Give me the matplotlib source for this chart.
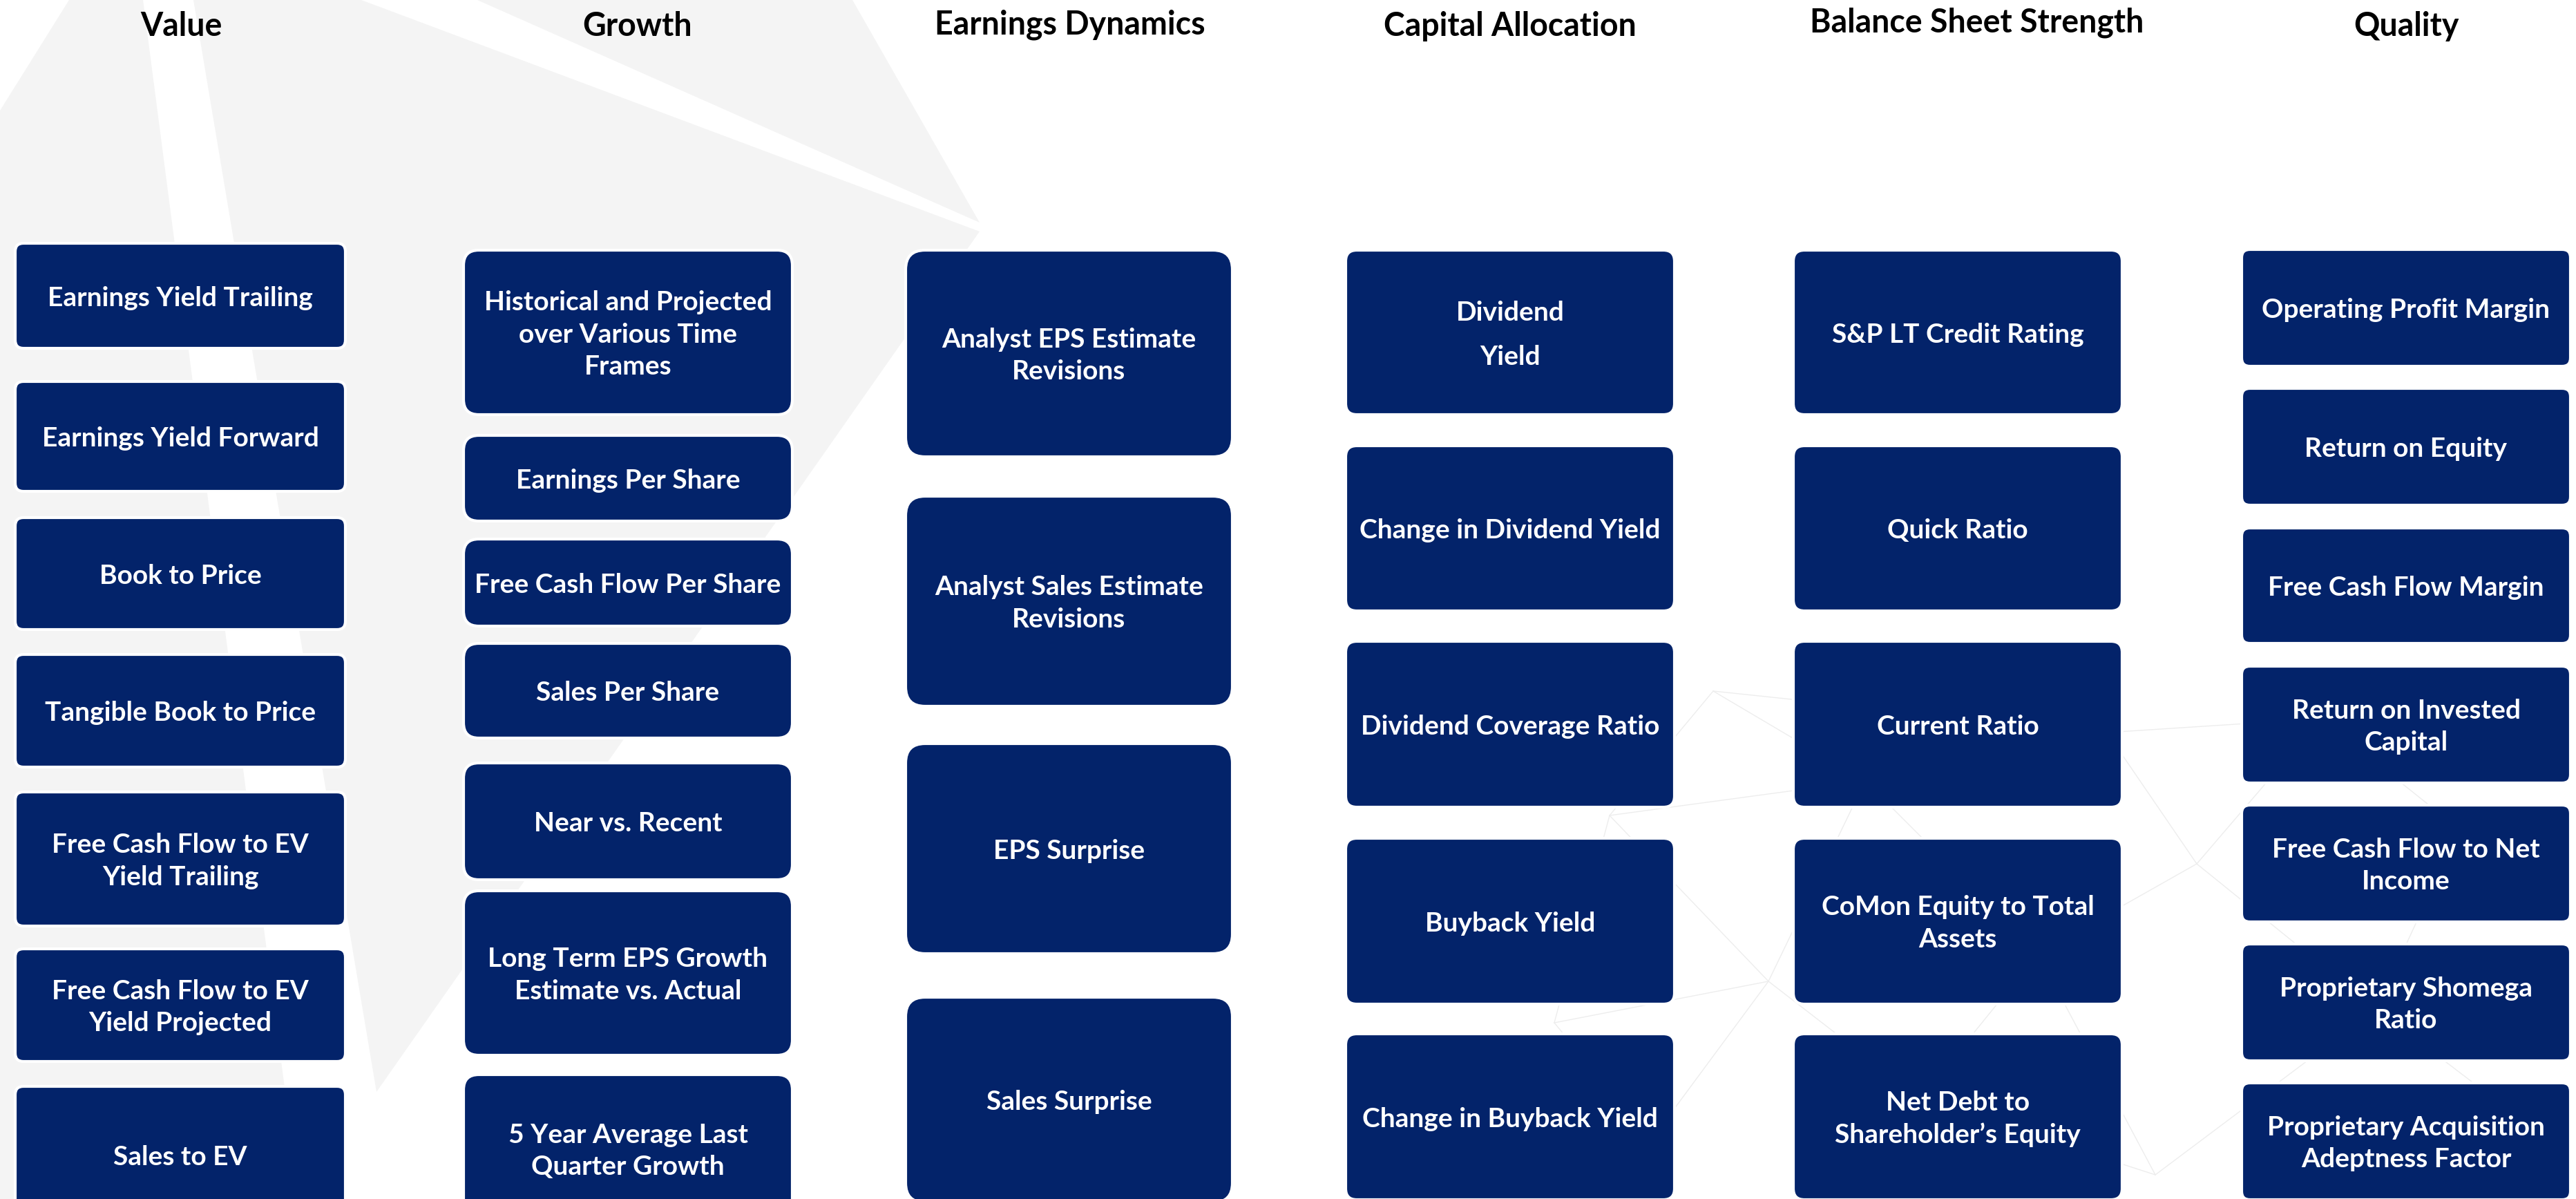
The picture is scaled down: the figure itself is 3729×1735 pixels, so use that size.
import matplotlib.pyplot as plt
from matplotlib.patches import FancyBboxPatch, Polygon

# ------------------------------------------------------------
# Factor groups and their metrics
# ------------------------------------------------------------
headers = ["Value", "Growth", "Earnings Dynamics", "Capital Allocation",
           "Balance Sheet Strength", "Quality"]

value_items = ["Earnings Yield Trailing", "Earnings Yield Forward", "Book to Price",
               "Tangible Book to Price", "Free Cash Flow to EV\nYield Trailing",
               "Free Cash Flow to EV\nYield Projected", "Sales to EV"]
growth_items = ["Historical and Projected\nover Various Time\nFrames", "Earnings Per Share",
                "Free Cash Flow Per Share", "Sales Per Share", "Near vs. Recent",
                "Long Term EPS Growth\nEstimate vs. Actual",
                "5 Year Average Last\nQuarter Growth"]
earnings_items = ["Analyst EPS Estimate\nRevisions", "Analyst Sales Estimate\nRevisions",
                  "EPS Surprise", "Sales Surprise"]
capital_items = ["Dividend\nYield", "Change in Dividend Yield", "Dividend Coverage Ratio",
                 "Buyback Yield", "Change in Buyback Yield"]
balance_items = ["S&P LT Credit Rating", "Quick Ratio", "Current Ratio",
                 "CoMon Equity to Total\nAssets", "Net Debt to\nShareholder\u2019s Equity"]
quality_items = ["Operating Profit Margin", "Return on Equity", "Free Cash Flow Margin",
                 "Return on Invested\nCapital", "Free Cash Flow to Net\nIncome",
                 "Proprietary Shomega\nRatio", "Proprietary Acquisition\nAdeptness Factor"]

# ------------------------------------------------------------
# Layout (pixels, y downwards)
# ------------------------------------------------------------
col_x = [(22, 500), (671, 1147), (1311, 1784), (1948, 2424), (2596, 3072), (3245, 3721)]
header_x = [262, 923, 1549, 2186, 2862, 3483]
header_y = [38, 38, 36, 38, 33, 38]
radius = [12, 22, 28, 16, 16, 12]

value_rows = [(352, 504), (552, 711), (749, 911), (947, 1110), (1146, 1340),
              (1373, 1536), (1572, 1770)]
growth_rows = [(362, 600), (630, 754), (780, 906), (931, 1068), (1104, 1273),
               (1289, 1527), (1555, 1770)]
earnings_rows = [(362, 661), (718, 1022), (1076, 1380), (1443, 1740)]
capital_rows = [(362, 600), (645, 884), (928, 1168), (1213, 1453), (1496, 1736)]
balance_rows = [(362, 600), (645, 884), (928, 1168), (1213, 1453), (1496, 1736)]
quality_rows = [(361, 530), (562, 731), (764, 931), (964, 1133), (1165, 1334),
                (1366, 1535), (1567, 1736)]

columns = [value_items, growth_items, earnings_items, capital_items, balance_items,
           quality_items]
rows = [value_rows, growth_rows, earnings_rows, capital_rows, balance_rows, quality_rows]

navy = "#03236a"
grey_bg = "#f4f4f4"

plt.rcParams["font.family"] = ["Lato", "DejaVu Sans"]

fig = plt.figure(figsize=(37.3, 17.35), dpi=100)
ax = fig.add_axes([0, 0, 1, 1])
ax.set_xlim(0, 3730)
ax.set_ylim(1735, 0)
ax.axis("off")
fig.patch.set_facecolor("white")

# background swooshes
bg_shapes = [
    [(0, 160), (100, 0), (207, 0), (433, 1735), (0, 1735)],
    [(280, 0), (523, 0), (1418, 335), (545, 1580)],
    [(691, 0), (1234, 0), (1418, 322)],
]
for pts in bg_shapes:
    ax.add_patch(Polygon(pts, closed=True, facecolor=grey_bg, edgecolor="none", zorder=0))

# faint network lines behind the right-hand columns
net_nodes = [(2330, 1180), (2480, 1000), (2700, 1130), (2560, 1420), (2390, 1650),
             (2780, 1590), (3050, 1060), (3180, 1250), (2950, 1380), (3360, 1040),
             (3560, 1200), (3440, 1460), (3650, 1620), (3120, 1700), (2250, 1480)]
net_links = [(0, 1), (0, 2), (1, 2), (0, 3), (2, 3), (3, 4), (3, 5), (2, 6), (6, 7),
             (7, 8), (5, 8), (2, 8), (7, 9), (9, 10), (10, 11), (7, 11), (11, 12),
             (8, 13), (5, 13), (4, 14), (0, 14), (3, 14), (6, 9), (11, 13), (1, 6)]
for a, b in net_links:
    (xa, ya), (xb, yb) = net_nodes[a], net_nodes[b]
    ax.plot([xa, xb], [ya, yb], color="#ededed", lw=1.0, zorder=1)

# headers
for name, hx, hy in zip(headers, header_x, header_y):
    ax.text(hx, hy, name, ha="center", va="center", fontsize=33.5, fontweight="bold",
            color="black", zorder=3)

# boxes
for c, (items, col_rows) in enumerate(zip(columns, rows)):
    x0, x1 = col_x[c]
    for label, (top, bot) in zip(items, col_rows):
        box = FancyBboxPatch((x0, top), x1 - x0, bot - top,
                             boxstyle=f"round,pad=0,rounding_size={radius[c]}",
                             facecolor=navy, edgecolor="white", linewidth=3, zorder=2)
        ax.add_patch(box)
        ls = 2.0 if label == "Dividend\nYield" else 1.38
        ax.text((x0 + x1) / 2, (top + bot) / 2 + 3, label, ha="center", va="center",
                color="white", fontsize=28, fontweight="bold", linespacing=ls, zorder=3)

fig.savefig("out.png", dpi=100)
